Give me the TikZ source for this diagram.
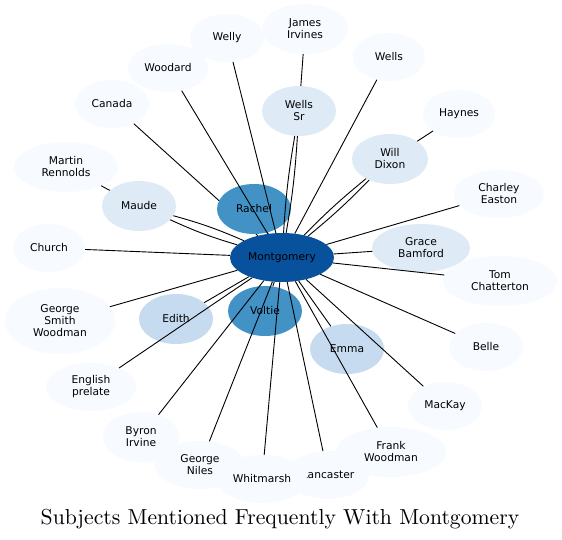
\documentclass[tikz,border=0pt]{standalone}
\usepackage{fontspec}
\newfontfamily\lblfont{DejaVu Sans}
\usetikzlibrary{shapes.geometric}
\pgfdeclarelayer{bg}
\pgfsetlayers{bg,main}
\definecolor{b0}{HTML}{F7FBFF}
\definecolor{b1}{HTML}{DEEBF7}
\definecolor{b2}{HTML}{C6DBEF}
\definecolor{b3}{HTML}{4292C6}
\definecolor{b4}{HTML}{08519C}
\tikzset{
  subj/.style={ellipse, inner sep=0pt, align=center, text=black,
    font={\lblfont\fontsize{10.7}{12}\selectfont}},
  link/.style={draw=black, line width=0.9pt},
}
\begin{document}
\begin{tikzpicture}[x=1pt,y=-1pt]
\begin{pgfonlayer}{bg}
\fill[white] (0,0) rectangle (562,540);
\end{pgfonlayer}
\useasboundingbox (0,0) rectangle (562,540);
% nodes
\node[subj, fill=b0, minimum width=86pt, minimum height=50pt] (james) at (305,29) {James\\Irvines};
\node[subj, fill=b0, minimum width=74pt, minimum height=48pt] (welly) at (227,38) {Welly};
\node[subj, fill=b0, minimum width=80pt, minimum height=48pt] (woodard) at (168,68) {Woodard};
\node[subj, fill=b0, minimum width=74pt, minimum height=48pt] (canada) at (112,104) {Canada};
\node[subj, fill=b0, minimum width=72pt, minimum height=48pt] (wells) at (389,57) {Wells};
\node[subj, fill=b1, minimum width=74pt, minimum height=50pt] (wellssr) at (299,111) {Wells\\Sr};
\node[subj, fill=b0, minimum width=72pt, minimum height=48pt] (haynes) at (459,114) {Haynes};
\node[subj, fill=b1, minimum width=76pt, minimum height=50pt] (dixon) at (390,159) {Will\\Dixon};
\node[subj, fill=b0, minimum width=104pt, minimum height=50pt] (martin) at (66,167) {Martin\\Rennolds};
\node[subj, fill=b1, minimum width=74pt, minimum height=50pt] (maude) at (139,206) {Maude};
\node[subj, fill=b0, minimum width=90pt, minimum height=48pt] (charley) at (499,194) {Charley\\Easton};
\node[subj, fill=b3, minimum width=74pt, minimum height=50pt] (rachel) at (254,209) {Rachel};
\node[subj, fill=b0, minimum width=72pt, minimum height=48pt] (church) at (49,248) {Church};
\node[subj, fill=b1, minimum width=98pt, minimum height=48pt] (grace) at (421,248) {Grace\\Bamford};
\node[subj, fill=b4, minimum width=104pt, minimum height=49pt] (mont) at (282,257.5) {Montgomery};
\node[subj, fill=b0, minimum width=114pt, minimum height=50pt] (tom) at (500,281) {Tom\\Chatterton};
\node[subj, fill=b0, minimum width=110pt, minimum height=66pt] (gsw) at (60,321) {George\\Smith\\Woodman};
\node[subj, fill=b2, minimum width=74pt, minimum height=50pt] (edith) at (176,319) {Edith};
\node[subj, fill=b3, minimum width=74pt, minimum height=50pt] (voltie) at (265,311) {Voltie};
\node[subj, fill=b2, minimum width=74pt, minimum height=50pt] (emma) at (347,349) {Emma};
\node[subj, fill=b0, minimum width=74pt, minimum height=48pt] (belle) at (486,347) {Belle};
\node[subj, fill=b0, minimum width=90pt, minimum height=48pt] (prelate) at (91,387) {English\\prelate};
\node[subj, fill=b0, minimum width=74pt, minimum height=48pt] (mackay) at (445,406) {MacKay};
\node[subj, fill=b0, minimum width=76pt, minimum height=50pt] (byron) at (141,437) {Byron\\Irvine};
\node[subj, fill=b0, minimum width=110pt, minimum height=50pt] (frank) at (391,452) {Frank\\Woodman};
\node[subj, fill=b0, minimum width=90pt, minimum height=48pt] (niles) at (200,465) {George\\Niles};
\node[subj, fill=b0, minimum width=82pt, minimum height=48pt] (lancaster) at (328,475) {Lancaster};
\node[subj, fill=b0, minimum width=90pt, minimum height=48pt] (whit) at (262,479) {Whitmarsh};
% edge hidden under Rachel
\begin{pgfonlayer}{bg}
\draw[link] (mont) -- (canada);
\end{pgfonlayer}
% edges
\draw[link] (mont) -- (rachel);
\draw[link] (mont) -- (welly);
\draw[link] (mont) -- (woodard);
\draw[link] (mont) to[bend left=3] (wellssr);
\draw[link] (mont) to[bend right=3] (wellssr);
\draw[link] (mont) -- (wells);
\draw[link] (mont) to[bend left=3] (dixon);
\draw[link] (mont) to[bend right=3] (dixon);
\draw[link] (mont) -- (charley);
\draw[link] (mont) -- (grace);
\draw[link] (mont) -- (tom);
\draw[link] (mont) -- (belle);
\draw[link] (mont) -- (mackay);
\draw[link] (mont) -- (emma);
\draw[link] (mont) -- (frank);
\draw[link] (mont) -- (lancaster);
\draw[link] (mont) -- (whit);
\draw[link] (mont) -- (niles);
\draw[link] (mont) -- (byron);
\draw[link] (mont) -- (prelate);
\draw[link] (mont) -- (edith);
\draw[link] (mont) -- (gsw);
\draw[link] (mont) -- (church);
\draw[link] (mont) to[bend left=4] (maude);
\draw[link] (mont) to[bend right=4] (maude);
\draw[link] (mont) -- (voltie);
\draw[link] (maude) -- (martin);
\draw[link] (wellssr) -- (james);
\draw[link] (dixon) -- (haynes);
% title
\node[anchor=base, scale=2.17, font=\normalsize] (title) at (280,524.3) {Subjects Mentioned Frequently With Montgomery};
\end{tikzpicture}
\end{document}
